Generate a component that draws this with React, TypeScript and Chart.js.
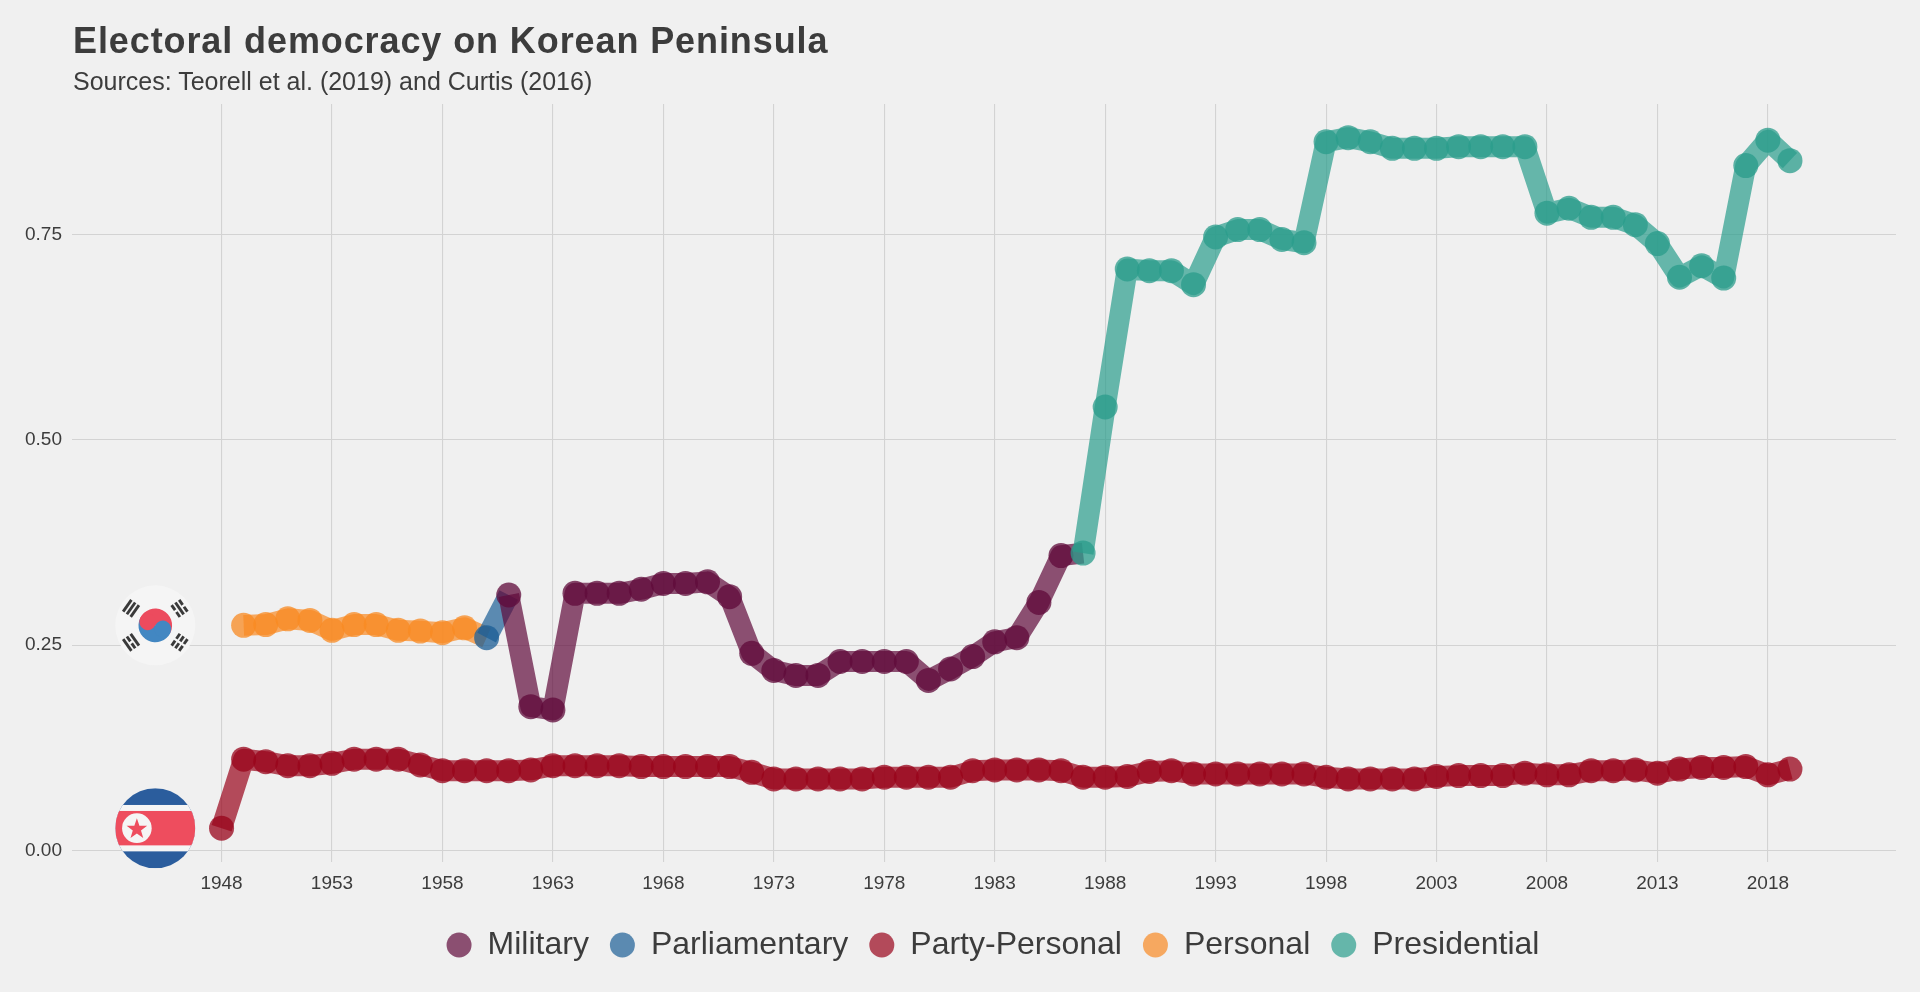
import React, { useEffect, useRef } from 'react';
import { Chart, registerables } from 'chart.js';

Chart.register(...registerables);

// South Korea, 1949-2019
const southYears = [
  1949, 1950, 1951, 1952, 1953, 1954, 1955, 1956, 1957, 1958,
  1959, 1960, 1961, 1962, 1963, 1964, 1965, 1966, 1967, 1968,
  1969, 1970, 1971, 1972, 1973, 1974, 1975, 1976, 1977, 1978,
  1979, 1980, 1981, 1982, 1983, 1984, 1985, 1986, 1987, 1988,
  1989, 1990, 1991, 1992, 1993, 1994, 1995, 1996, 1997, 1998,
  1999, 2000, 2001, 2002, 2003, 2004, 2005, 2006, 2007, 2008,
  2009, 2010, 2011, 2012, 2013, 2014, 2015, 2016, 2017, 2018,
  2019,
];
const southValues = [
  0.274, 0.275, 0.282, 0.280, 0.268, 0.275, 0.275, 0.268, 0.267, 0.265,
  0.271, 0.259, 0.311, 0.175, 0.171, 0.313, 0.313, 0.313, 0.318, 0.325,
  0.325, 0.327, 0.309, 0.240, 0.219, 0.213, 0.213, 0.230, 0.230, 0.230,
  0.230, 0.207, 0.221, 0.236, 0.254, 0.259, 0.302, 0.359, 0.362, 0.540,
  0.708, 0.706, 0.706, 0.689, 0.747, 0.756, 0.756, 0.744, 0.740, 0.863,
  0.868, 0.863, 0.855, 0.855, 0.855, 0.857, 0.857, 0.857, 0.857, 0.776,
  0.782, 0.771, 0.771, 0.762, 0.739, 0.698, 0.712, 0.697, 0.834, 0.865,
  0.840,
];
const southPeriods = [
  { regime: 'Personal', from: 1949, to: 1959 },
  { regime: 'Parliamentary', from: 1960, to: 1960 },
  { regime: 'Military', from: 1961, to: 1986 },
  { regime: 'Presidential', from: 1987, to: 2019 },
];

// North Korea, 1948-2019 (Party-Personal throughout)
const northYears = [
  1948, 1949, 1950, 1951, 1952, 1953, 1954, 1955, 1956, 1957,
  1958, 1959, 1960, 1961, 1962, 1963, 1964, 1965, 1966, 1967,
  1968, 1969, 1970, 1971, 1972, 1973, 1974, 1975, 1976, 1977,
  1978, 1979, 1980, 1981, 1982, 1983, 1984, 1985, 1986, 1987,
  1988, 1989, 1990, 1991, 1992, 1993, 1994, 1995, 1996, 1997,
  1998, 1999, 2000, 2001, 2002, 2003, 2004, 2005, 2006, 2007,
  2008, 2009, 2010, 2011, 2012, 2013, 2014, 2015, 2016, 2017,
  2018, 2019,
];
const northValues = [
  0.027, 0.111, 0.108, 0.103, 0.103, 0.106, 0.111, 0.111, 0.111, 0.104,
  0.097, 0.097, 0.097, 0.097, 0.098, 0.103, 0.103, 0.103, 0.103, 0.102,
  0.102, 0.102, 0.102, 0.102, 0.095, 0.087, 0.087, 0.087, 0.087, 0.087,
  0.089, 0.089, 0.089, 0.089, 0.097, 0.098, 0.098, 0.098, 0.097, 0.089,
  0.089, 0.090, 0.096, 0.097, 0.093, 0.093, 0.093, 0.093, 0.093, 0.093,
  0.089, 0.087, 0.087, 0.087, 0.087, 0.090, 0.091, 0.091, 0.091, 0.094,
  0.092, 0.092, 0.097, 0.097, 0.098, 0.094, 0.099, 0.101, 0.101, 0.102,
  0.092, 0.099,
];
const northRegime = 'Party-Personal';

const regimes = ['Military', 'Parliamentary', 'Party-Personal', 'Personal', 'Presidential'];
const regimeColors: Record<string, number[]> = {
  Military: [95, 10, 58],
  Parliamentary: [27, 94, 149],
  'Party-Personal': [152, 3, 26],
  Personal: [248, 137, 34],
  Presidential: [41, 156, 139],
};

const xTicks = [1948, 1953, 1958, 1963, 1968, 1973, 1978, 1983, 1988, 1993, 1998, 2003, 2008, 2013, 2018];
const yTicks = [0, 0.25, 0.5, 0.75];
const flagYear = 1945;

const lineAlpha = 0.7;
const pointAlpha = 0.75;
const textColor = '#3c3c3c';
const gridColor = '#d3d3d3';
const fontFamily = '"Liberation Sans", Arial, Helvetica, sans-serif';

const rgba = (c: number[], a: number) => `rgba(${c[0]}, ${c[1]}, ${c[2]}, ${a})`;
const regimeOf = (year: number) =>
  (southPeriods.find((p) => year >= p.from && year <= p.to) || southPeriods[0]).regime;

// --- flags -------------------------------------------------------------

function drawTrigram(ctx: CanvasRenderingContext2D, pattern: boolean[], len: number) {
  // pattern: true = solid bar, false = broken bar
  const thick = len * 0.2;
  const gap = len * 0.32;
  pattern.forEach((solid, i) => {
    const off = (i - 1) * gap;
    if (solid) {
      ctx.fillRect(off - thick / 2, -len / 2, thick, len);
    } else {
      const part = len * 0.42;
      ctx.fillRect(off - thick / 2, -len / 2, thick, part);
      ctx.fillRect(off - thick / 2, len / 2 - part, thick, part);
    }
  });
}

function drawSouthFlag(ctx: CanvasRenderingContext2D, cx: number, cy: number, r: number) {
  ctx.save();
  ctx.beginPath();
  ctx.arc(cx, cy, r, 0, Math.PI * 2);
  ctx.fillStyle = '#f5f5f5';
  ctx.fill();

  // taegeuk
  const tr = r * 0.42;
  ctx.save();
  ctx.translate(cx, cy);
  ctx.rotate(0.45);
  ctx.fillStyle = '#4287c2';
  ctx.beginPath();
  ctx.arc(0, 0, tr, 0, Math.PI);
  ctx.fill();
  ctx.fillStyle = '#ec4b5e';
  ctx.beginPath();
  ctx.arc(0, 0, tr, Math.PI, Math.PI * 2);
  ctx.fill();
  ctx.beginPath();
  ctx.arc(-tr / 2, 0, tr / 2, 0, Math.PI * 2);
  ctx.fill();
  ctx.fillStyle = '#4287c2';
  ctx.beginPath();
  ctx.arc(tr / 2, 0, tr / 2, 0, Math.PI * 2);
  ctx.fill();
  ctx.restore();

  // trigrams
  const corners = [
    { ang: -2.53, pattern: [true, true, true] },
    { ang: -0.61, pattern: [false, true, false] },
    { ang: 2.53, pattern: [true, false, true] },
    { ang: 0.61, pattern: [false, false, false] },
  ];
  ctx.fillStyle = '#3a3a3a';
  corners.forEach(({ ang, pattern }) => {
    ctx.save();
    ctx.translate(cx + Math.cos(ang) * r * 0.74, cy + Math.sin(ang) * r * 0.74);
    ctx.rotate(ang);
    drawTrigram(ctx, pattern, r * 0.36);
    ctx.restore();
  });
  ctx.restore();
}

function drawNorthFlag(ctx: CanvasRenderingContext2D, cx: number, cy: number, r: number) {
  ctx.save();
  ctx.beginPath();
  ctx.arc(cx, cy, r, 0, Math.PI * 2);
  ctx.clip();
  ctx.fillStyle = '#2b5d9d';
  ctx.fillRect(cx - r, cy - r, r * 2, r * 2);
  ctx.fillStyle = '#f5f5f5';
  ctx.fillRect(cx - r, cy - r * 0.58, r * 2, r * 1.16);
  ctx.fillStyle = '#ee4d5e';
  ctx.fillRect(cx - r, cy - r * 0.43, r * 2, r * 0.86);

  const sx = cx - r * 0.46;
  ctx.fillStyle = '#f5f5f5';
  ctx.beginPath();
  ctx.arc(sx, cy, r * 0.37, 0, Math.PI * 2);
  ctx.fill();

  const outer = r * 0.27;
  const inner = outer * 0.4;
  ctx.fillStyle = '#ee4d5e';
  ctx.beginPath();
  for (let i = 0; i < 10; i++) {
    const rad = i % 2 === 0 ? outer : inner;
    const a = -Math.PI / 2 + (i * Math.PI) / 5;
    const px = sx + Math.cos(a) * rad;
    const py = cy + 1 + Math.sin(a) * rad;
    if (i === 0) ctx.moveTo(px, py);
    else ctx.lineTo(px, py);
  }
  ctx.closePath();
  ctx.fill();
  ctx.restore();
}

const flagPlugin = {
  id: 'flags',
  afterDatasetsDraw(chart: any) {
    const { ctx, scales } = chart;
    const fx = scales.x.getPixelForValue(flagYear);
    drawSouthFlag(ctx, fx, scales.y.getPixelForValue(southValues[0]), 40);
    drawNorthFlag(ctx, fx, scales.y.getPixelForValue(northValues[0]), 40);
  },
};

// centre the legend under the panel rather than the whole canvas
const legendShift = {
  id: 'legendShift',
  afterLayout(chart: any) {
    const lg = chart.legend;
    const area = chart.chartArea;
    if (!lg || !area) return;
    const shift = (area.left + area.right) / 2 + 9 - (lg.left + lg.right) / 2;
    lg.left += shift;
    lg.right += shift;
  },
};

const ElectoralChart: React.FC = () => {
  const canvasRef = useRef<HTMLCanvasElement | null>(null);
  const chartRef = useRef<Chart | null>(null);

  useEffect(() => {
    document.body.style.margin = '0';
    if (!canvasRef.current) return;

    if (chartRef.current) {
      chartRef.current.destroy();
    }

    const tickFont = { family: fontFamily, size: 19 };

    chartRef.current = new Chart(canvasRef.current, {
      type: 'line',
      data: {
        datasets: [
          {
            label: 'South Korea',
            data: southYears.map((year, i) => ({ x: year, y: southValues[i] })),
            borderColor: rgba(regimeColors.Presidential, lineAlpha),
            borderWidth: 21,
            borderCapStyle: 'butt',
            borderJoinStyle: 'round',
            tension: 0,
            fill: false,
            pointRadius: 12.5,
            pointHoverRadius: 12.5,
            pointBorderWidth: 0,
            pointBackgroundColor: southYears.map((year) => rgba(regimeColors[regimeOf(year)], pointAlpha)),
            segment: {
              borderColor: (ctx: any) => rgba(regimeColors[regimeOf(southYears[ctx.p0DataIndex])], lineAlpha),
            },
          },
          {
            label: 'North Korea',
            data: northYears.map((year, i) => ({ x: year, y: northValues[i] })),
            borderColor: rgba(regimeColors[northRegime], lineAlpha),
            borderWidth: 21,
            borderCapStyle: 'butt',
            borderJoinStyle: 'round',
            tension: 0,
            fill: false,
            pointRadius: 12.5,
            pointHoverRadius: 12.5,
            pointBorderWidth: 0,
            pointBackgroundColor: rgba(regimeColors[northRegime], pointAlpha),
          },
        ],
      },
      options: {
        animation: false,
        responsive: false,
        events: [],
        layout: { padding: { top: 104, left: 25, right: 24, bottom: 21 } },
        scales: {
          x: {
            type: 'linear',
            min: 1941.23,
            max: 2023.8,
            afterBuildTicks: (scale: any) => {
              scale.ticks = xTicks.map((value) => ({ value }));
            },
            afterFit: (scale: any) => {
              scale.height = 46;
            },
            ticks: {
              autoSkip: false,
              maxRotation: 0,
              padding: 10,
              color: textColor,
              font: tickFont,
              callback: (v: any) => String(v),
            },
            grid: { color: gridColor, lineWidth: 1.1, drawTicks: false },
            border: { display: false },
          },
          y: {
            type: 'linear',
            min: -0.0142,
            max: 0.909,
            afterBuildTicks: (scale: any) => {
              scale.ticks = yTicks.map((value) => ({ value }));
            },
            afterFit: (scale: any) => {
              scale.width = 47;
            },
            ticks: {
              autoSkip: false,
              padding: 10,
              color: textColor,
              font: tickFont,
              callback: (v: any) => Number(v).toFixed(2),
            },
            grid: { color: gridColor, lineWidth: 1.1, drawTicks: false },
            border: { display: false },
          },
        },
        plugins: {
          tooltip: { enabled: false },
          title: { display: false },
          legend: {
            position: 'bottom',
            labels: {
              usePointStyle: true,
              boxHeight: 17.7,
              pointStyleWidth: 25,
              padding: 21,
              color: textColor,
              font: { family: fontFamily, size: 32 },
              generateLabels: () =>
                regimes.map((name) => ({
                  text: name,
                  fillStyle: rgba(regimeColors[name], lineAlpha),
                  strokeStyle: rgba(regimeColors[name], lineAlpha),
                  lineWidth: 0,
                  pointStyle: 'circle',
                  hidden: false,
                  fontColor: textColor,
                })),
            },
          },
        },
      } as any,
      plugins: [flagPlugin, legendShift],
    });

    return () => {
      if (chartRef.current) {
        chartRef.current.destroy();
        chartRef.current = null;
      }
    };
  }, []);

  return (
    <div style={{ position: 'relative', width: 1920, height: 992, background: '#f0f0f0', overflow: 'hidden' }}>
      <canvas ref={canvasRef} width={1920} height={992} style={{ display: 'block' }} />
      <div
        style={{
          position: 'absolute',
          left: 73,
          top: 23,
          fontFamily,
          fontWeight: 'bold',
          fontSize: 36,
          letterSpacing: '0.9px',
          lineHeight: 1,
          color: textColor,
          whiteSpace: 'nowrap',
        }}
      >
        Electoral democracy on Korean Peninsula
      </div>
      <div
        style={{
          position: 'absolute',
          left: 73,
          top: 69,
          fontFamily,
          fontSize: 25,
          lineHeight: 1,
          color: textColor,
          whiteSpace: 'nowrap',
        }}
      >
        Sources: Teorell et al. (2019) and Curtis (2016)
      </div>
    </div>
  );
};

export default function App() {
  return <ElectoralChart />;
}
